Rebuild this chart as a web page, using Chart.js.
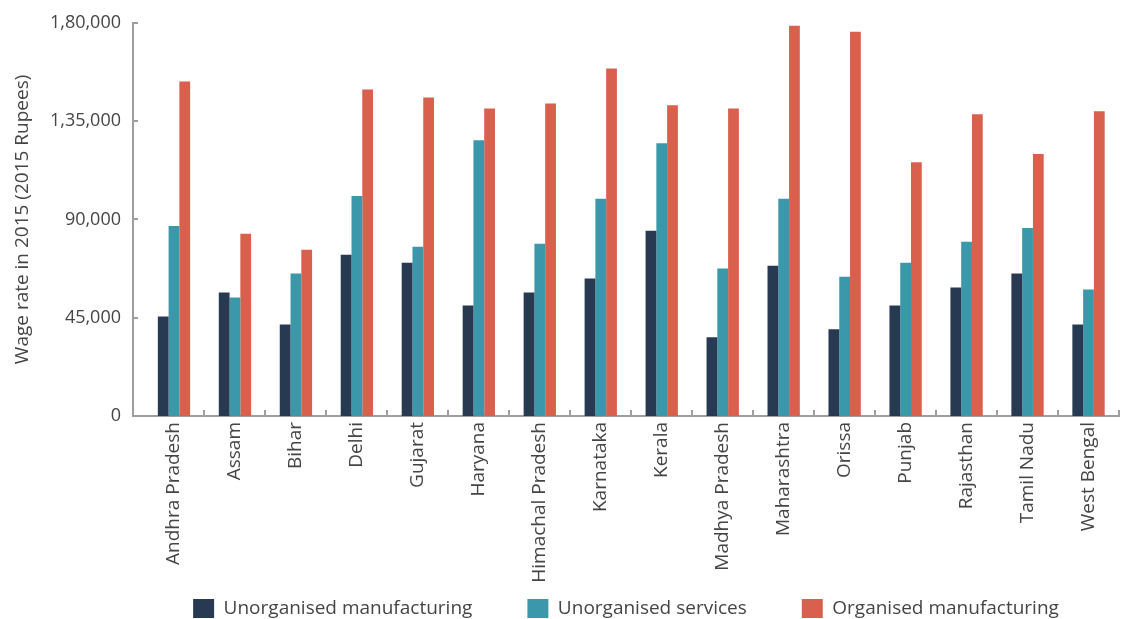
<!DOCTYPE html>
<html>
<head>
<meta charset="utf-8">
<script src="https://cdn.jsdelivr.net/npm/chart.js@4/dist/chart.umd.min.js"></script>
<style>
  html, body { margin: 0; padding: 0; background: #ffffff; }
  #wrap { width: 1128px; height: 619px; position: relative; }
</style>
</head>
<body>
<div id="wrap"><canvas id="c" width="1128" height="619"></canvas></div>
<script>
const categories = ['Andhra Pradesh', 'Assam', 'Bihar', 'Delhi', 'Gujarat', 'Haryana', 'Himachal Pradesh', 'Karnataka', 'Kerala', 'Madhya Pradesh', 'Maharashtra', 'Orissa', 'Punjab', 'Rajasthan', 'Tamil Nadu', 'West Bengal'];
const unorganisedManufacturing = [45600, 56500, 41900, 73800, 70200, 50600, 56500, 62900, 84800, 36000, 68800, 39700, 50600, 58800, 65200, 41900];
const unorganisedServices = [87000, 54200, 65200, 100700, 77500, 126200, 78800, 99400, 124900, 67500, 99400, 63800, 70200, 79800, 86100, 57900];
const organisedManufacturing = [153100, 83400, 76100, 149500, 145800, 140800, 143100, 159100, 142200, 140800, 178700, 175900, 116200, 138100, 119900, 139500];
const seriesNames = ['Unorganised manufacturing', 'Unorganised services', 'Organised manufacturing'];
const yTickValues = [0, 45000, 90000, 135000, 180000];
const yTickLabels = ['0', '45,000', '90,000', '1,35,000', '1,80,000'];
const yTitle = 'Wage rate in 2015 (2015 Rupees)';

const colors = ['#283a52', '#3b98aa', '#da604e'];
const axisColor = '#9e9ea1';
const textColor = '#454545';
const FONT = "'Open Sans', 'Noto Sans', sans-serif";
const LEGEND_PAD = 55;
const LEGEND_ITEM_TOP = 599;
const X_INSET = 10.5;

const layoutTweaks = {
  id: 'layoutTweaks',
  afterLayout(chart) {
    const x = chart.scales.x;
    x._startPixel += X_INSET;
    x._length -= X_INSET;
    const lg = chart.legend;
    if (lg) {
      lg.top = LEGEND_ITEM_TOP - LEGEND_PAD;
      lg.bottom = chart.height;
      lg.height = lg.bottom - lg.top;
    }
  }
};

const innerTicks = {
  id: 'innerTicks',
  afterDatasetsDraw(chart) {
    const { ctx, scales: { x, y } } = chart;
    ctx.save();
    ctx.strokeStyle = axisColor;
    ctx.lineWidth = 2;
    ctx.beginPath();
    y.ticks.forEach(t => {
      const py = Math.round(y.getPixelForValue(t.value));
      ctx.moveTo(x.left, py);
      ctx.lineTo(x.left + 5, py);
    });
    for (let i = 1; i <= categories.length; i++) {
      const px = Math.round(x.getPixelForValue(i - 0.5));
      ctx.moveTo(px, y.bottom);
      ctx.lineTo(px, y.bottom - 6);
    }
    ctx.stroke();
    ctx.restore();
  }
};

const data = {
  labels: categories,
  datasets: [
    { label: seriesNames[0], data: unorganisedManufacturing, backgroundColor: colors[0] },
    { label: seriesNames[1], data: unorganisedServices, backgroundColor: colors[1] },
    { label: seriesNames[2], data: organisedManufacturing, backgroundColor: colors[2] }
  ]
};

new Chart(document.getElementById('c'), {
  type: 'bar',
  data,
  plugins: [layoutTweaks, innerTicks],
  options: {
    responsive: false,
    animation: false,
    devicePixelRatio: 1,
    datasets: { bar: { categoryPercentage: 0.53, barPercentage: 1.0, borderWidth: 0 } },
    layout: { padding: { top: 21, right: 9, left: 0, bottom: 0 } },
    plugins: {
      tooltip: { enabled: false },
      legend: {
        position: 'bottom',
        fullSize: false,
        maxHeight: 33,
        labels: {
          boxWidth: 21,
          boxHeight: 19,
          padding: LEGEND_PAD,
          color: textColor,
          font: { family: FONT, size: 19 }
        }
      }
    },
    scales: {
      x: {
        grid: { display: false, drawTicks: false },
        border: { display: true, color: axisColor, width: 2 },
        ticks: {
          autoSkip: false,
          minRotation: 90,
          maxRotation: 90,
          padding: 6,
          color: textColor,
          font: { family: FONT, size: 19 }
        },
        afterFit(scale) { scale.height = 170; }
      },
      y: {
        min: 0,
        max: 180000,
        afterBuildTicks(scale) { scale.ticks = yTickValues.map(v => ({ value: v })); },
        grid: { display: false, drawTicks: false },
        border: { display: true, color: axisColor, width: 2 },
        ticks: {
          padding: 12,
          color: textColor,
          font: { family: FONT, size: 18 },
          callback(v) { const i = yTickValues.indexOf(v); return i >= 0 ? yTickLabels[i] : ''; }
        },
        title: {
          display: true,
          text: yTitle,
          color: textColor,
          font: { family: FONT, size: 19 },
          padding: { top: 11, bottom: 0 }
        },
        afterFit(scale) { scale.width = 133; }
      }
    }
  }
});
</script>
</body>
</html>
